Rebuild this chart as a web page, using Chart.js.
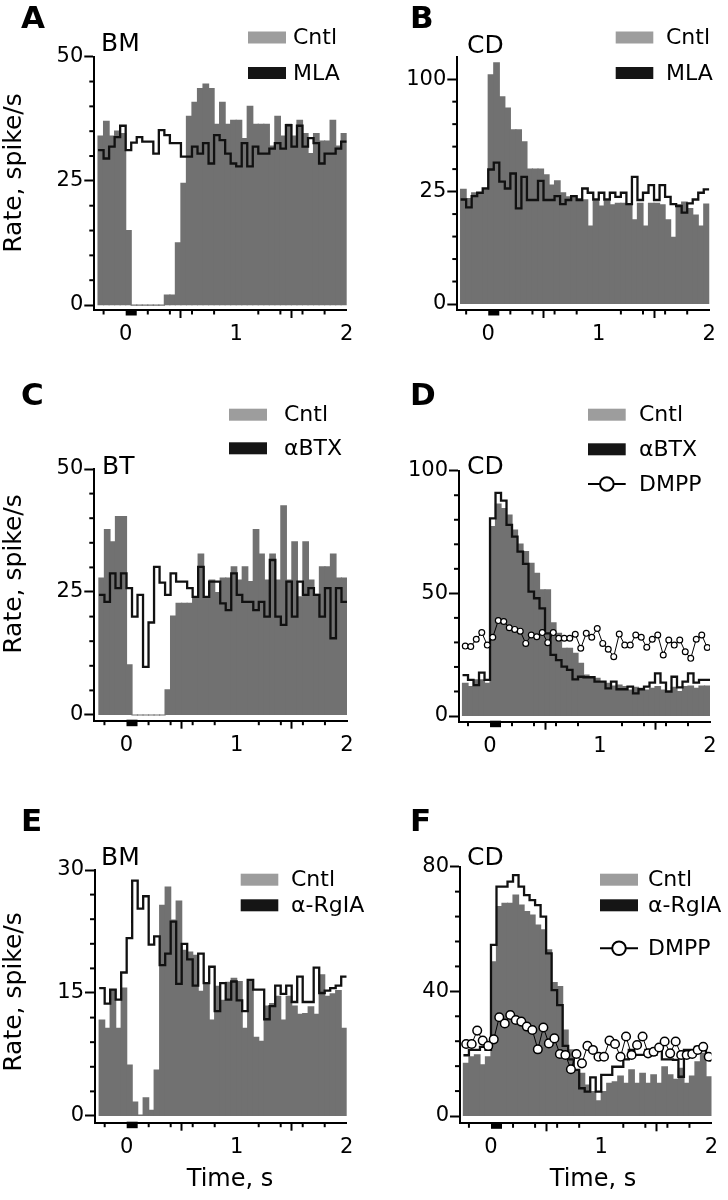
<!DOCTYPE html>
<html><head><meta charset="utf-8">
<script src="https://cdn.jsdelivr.net/npm/chart.js@4.4.1/dist/chart.umd.min.js"></script>
<style>
html,body{margin:0;padding:0;background:#fff;}
#wrap{position:relative;width:728px;height:1200px;overflow:hidden;background:#fff;}
canvas{position:absolute;left:0;top:0;}
</style></head><body><div id="wrap"></div>
<script>
// ---------- shared categories / ticks ----------
const binStart = -0.25, binWidth = 0.05;      // 45 bins, -0.25 .. 2.0 s
const xTicks = [0, 1, 2];
const xMinorTicks = [-0.2, 0.2, 0.4, 0.6, 0.8, 1.2, 1.4, 1.6, 1.8];
const stimWindow = [0, 0.1];

// ---------- panel A (BM, MLA) ----------
const A_region = 'BM';
const A_series = ['Cntl', 'MLA'];
const A_yTicks = [0, 25, 50];
const A_yMinor = [5, 10, 15, 20, 30, 35, 40, 45];
const A_cntl = [34, 37, 34, 35, 34.5, 15, 0, 0, 0, 0, 0, 0, 2, 2, 12.5, 24.5, 38, 40.8, 43.6, 44.5, 43.6, 36.4, 40.8, 36.4, 37.2, 37.2, 33.5, 40, 36.4, 36.4, 36.4, 32, 38, 34, 36.4, 34, 37.2, 34.5, 30.5, 34.5, 33, 33, 37.2, 32, 34.5];
const A_drug = [31.2, 29.5, 31.9, 33.8, 36.1, 31.2, 32.7, 33.8, 32.9, 32.9, 30.5, 35.2, 34.2, 32.6, 32.6, 29.9, 29.9, 31.9, 30.5, 32.6, 28.5, 34.2, 33.2, 30.5, 28.5, 27.9, 32.6, 27.9, 31.9, 30.5, 30.5, 31.5, 32.6, 31.5, 36.2, 31.9, 36.1, 31.9, 33.6, 32.6, 28.5, 30.5, 30.5, 31.5, 32.9];

// ---------- panel B (CD, MLA) sqrt axis ----------
const B_region = 'CD';
const B_series = ['Cntl', 'MLA'];
const B_yTicks = [0, 25, 100];
const B_yMinor = [1, 4, 9, 16, 36, 49, 64, 81];
const B_cntl = [26, 22, 24.5, 24.5, 25.7, 104, 115, 85, 76, 60, 60, 52, 36, 36, 36, 33, 28, 30, 24.5, 22.7, 22.7, 22, 21.5, 12, 21, 19, 21, 19.5, 20, 20, 19.5, 14, 20, 12, 20, 20, 19.5, 14, 8.8, 19.5, 20.5, 18, 15.6, 12, 19.7];
const B_drug = [21.6, 18.5, 23, 24.5, 26.4, 35.8, 39.6, 29.6, 26.4, 33.7, 18.1, 32, 21.4, 21.4, 30, 21.4, 21.4, 23, 19.7, 21.4, 23, 21.4, 26.4, 24.5, 21.6, 24.5, 21.6, 24.5, 22.7, 24.5, 19.7, 32, 21.4, 24.5, 28, 21.4, 28, 22.7, 19.7, 19, 16.5, 20, 21.6, 24.5, 26];

// ---------- panel C (BT, αBTX) ----------
const C_region = 'BT';
const C_series = ['Cntl', 'αBTX'];
const C_yTicks = [0, 25, 50];
const C_yMinor = [5, 10, 15, 20, 30, 35, 40, 45];
const C_cntl = [27.8, 37.7, 35.2, 40.3, 40.3, 10.2, 0, 0, 0, 0, 0, 0, 5.1, 20.1, 22.7, 22.7, 22.7, 24, 32.7, 24, 27.4, 24.9, 27.8, 27.8, 30.1, 27.4, 30.1, 27.1, 37.7, 32.7, 27.4, 32.7, 27.4, 42.5, 27.4, 35.2, 24, 35.2, 27.4, 24.5, 30.1, 30.1, 32.7, 27.8, 27.8];
const C_drug = [24.4, 23, 28.8, 25.8, 28.8, 25.8, 20, 24.4, 9.8, 18.8, 30.1, 26.9, 24.4, 28.8, 27.1, 27.1, 25.8, 24, 30.1, 24, 27.1, 27.1, 22.7, 21.3, 28.8, 24.4, 23, 23, 21.3, 23, 20, 31.5, 20, 18.3, 27.1, 20, 27.1, 24.4, 25.8, 24.4, 20, 25.8, 15.6, 25.8, 23];

// ---------- panel D (CD, αBTX, DMPP) ----------
const D_region = 'CD';
const D_series = ['Cntl', 'αBTX', 'DMPP'];
const D_yTicks = [0, 50, 100];
const D_yMinor = [10, 20, 30, 40, 60, 70, 80, 90];
const D_cntl = [13.3, 12, 14.7, 14.7, 13.3, 77.2, 86.4, 84.6, 81.9, 75.8, 70.1, 67, 62.2, 58.2, 51.4, 51.4, 38, 33.7, 27.6, 27.6, 25.5, 21.5, 16.7, 16, 15.4, 14, 13.3, 12.2, 12.6, 12, 10.6, 11.7, 11.3, 10.6, 11.3, 12, 10.6, 10.3, 11.7, 9.9, 12, 12.2, 11.3, 12.2, 12.2];
const D_drug = [16.7, 14.7, 12.6, 17.7, 14.7, 80.6, 91, 87.8, 77.9, 73.1, 67, 62, 50.7, 48, 43.9, 33.7, 24.9, 22.8, 20.1, 18.8, 14.9, 16, 15.8, 15.8, 14, 14, 11.3, 14, 10.9, 10.9, 12, 9.2, 10.9, 12, 13.6, 17.4, 13.6, 9.9, 16, 11.7, 14, 17.4, 13.6, 14.7, 14.7];
const D_dmpp = [28.5, 28.3, 31.3, 34, 28.9, 32.1, 38.9, 38.5, 36, 35.3, 34.6, 29.6, 33, 32.3, 34, 29.9, 34, 31.7, 31.7, 31.7, 33.3, 27.6, 33.7, 32.1, 35.7, 29.6, 27.2, 24.2, 33.4, 28.9, 28.9, 33, 32.1, 28, 31.3, 33, 24.9, 31, 28.9, 31, 26.2, 23.5, 31.3, 33, 27.9];

// ---------- panel E (BM, α-RgIA) ----------
const E_region = 'BM';
const E_series = ['Cntl', 'α-RgIA'];
const E_yTicks = [0, 15, 30];
const E_yMinor = [3, 6, 9, 12, 18, 21, 24, 27];
const E_cntl = [11.7, 10.7, 15.4, 10.7, 15.6, 6.2, 1.7, 0.1, 2.2, 0.7, 5.6, 25.7, 27.9, 23.9, 26.2, 20.2, 20, 19.6, 15.2, 16.2, 11.7, 15.8, 14.1, 16.3, 16.8, 16.4, 10.7, 16.6, 9.6, 9.1, 13.4, 13.7, 14.6, 11.7, 14.6, 13.4, 12.4, 12.5, 13.3, 12.4, 17.2, 14.6, 14.9, 15.3, 10.7];
const E_drug = [15.6, 13.7, 15.4, 14.2, 17.5, 21.7, 28.7, 25.3, 26.8, 20.9, 21.9, 18.4, 19.8, 23.7, 16.1, 21, 19.1, 15.9, 19.8, 16.2, 18.2, 12.8, 16.2, 14.2, 16.4, 14.1, 12.8, 16.6, 15.4, 15.4, 11.8, 13.4, 15.9, 14.9, 15.9, 13.9, 17, 13.9, 13.9, 18.1, 15, 15.3, 15.6, 15.9, 17];

// ---------- panel F (CD, α-RgIA, DMPP) ----------
const F_region = 'CD';
const F_series = ['Cntl', 'α-RgIA', 'DMPP'];
const F_yTicks = [0, 40, 80];
const F_yMinor = [8, 16, 24, 32, 48, 56, 64, 72];
const F_cntl = [16.9, 19, 19.6, 16.4, 19, 49.5, 67.2, 68.2, 68.2, 70.9, 67.7, 65.6, 64.5, 61.3, 59.7, 53.3, 42.8, 41.5, 27.6, 21.2, 14.8, 13.7, 9.9, 7.8, 4.9, 7.8, 10.5, 11, 12.8, 10.5, 14.8, 10.5, 13.7, 10.5, 13.2, 10.5, 15.8, 13.2, 11.8, 15.3, 10.5, 12.8, 17.4, 20.1, 12.6];
const F_drug = [19.5, 21.2, 21.2, 22.2, 21.2, 54.9, 73.6, 73.6, 75.2, 77.3, 73.6, 70.9, 69.3, 67.7, 64, 52.2, 40.4, 35.6, 22.5, 18.2, 14.8, 8.9, 7.8, 12.4, 7.8, 13.2, 13.2, 15.8, 15.8, 18.2, 21.2, 19.6, 19.6, 21.2, 19.6, 21.2, 18.2, 18.2, 18, 12.6, 21.2, 21.2, 22.2, 21.2, 19.6];
const F_dmpp = [23.1, 23.1, 27.4, 24.2, 22.5, 24.6, 31.7, 29.7, 32.4, 30.8, 30.3, 28.7, 27.6, 21.4, 28.4, 23.3, 24.9, 19.9, 19.6, 15, 19.9, 16.9, 22.5, 21.2, 19, 19, 24.2, 23.1, 19, 25.5, 19.6, 22.8, 25.5, 20.1, 20.6, 22, 23.9, 20.1, 23.9, 19.6, 19.6, 19.9, 21.2, 22.2, 19];

const Y_TITLE = 'Rate, spike/s';
const X_TITLE = 'Time, s';

// ---------- styles ----------
const FONT = '"DejaVu Sans", "Liberation Sans", Arial, sans-serif';
const COL_BAR = '#717171';
const COL_SWATCH = '#9d9d9d';
const COL_LINE = '#111111';
const YW = 60, XH = 40;
Chart.defaults.font.family = FONT;
Chart.defaults.color = '#000';

// sqrt value axis (panel B)
const sgnSqrt = v => Math.sign(v) * Math.sqrt(Math.abs(v));
class SqrtScale extends Chart.LinearScale {
  getPixelForValue(value) {
    const a = sgnSqrt(this.min), b = sgnSqrt(this.max);
    return this.getPixelForDecimal((sgnSqrt(value) - a) / (b - a));
  }
  getValueForPixel(pixel) {
    const a = sgnSqrt(this.min), b = sgnSqrt(this.max);
    const s = a + this.getDecimalForPixel(pixel) * (b - a);
    return Math.sign(s) * s * s;
  }
}
SqrtScale.id = 'sqrt';
SqrtScale.defaults = Chart.LinearScale.defaults;
Chart.register(SqrtScale);

const panels = [
  {letter:'A', region:A_region, series:A_series, cntl:A_cntl, drug:A_drug, yTicks:A_yTicks, yMinor:A_yMinor,
   left:94.3, right:346.7, top:56.7, bottom:310, xMin:-0.284, yMin:-1.0, yMax:50,
   letterPos:[21, 20], regionPos:[101, 44], sw:[248, 286], tx:293, rows:[37.5, 73], yTitleY:173},
  {letter:'B', region:B_region, series:B_series, cntl:B_cntl, drug:B_drug, yTicks:B_yTicks, yMinor:B_yMinor, yType:'sqrt',
   left:457.3, right:709.3, top:56.7, bottom:310, xMin:-0.28, yMin:-0.071, yMax:121,
   letterPos:[410, 20], regionPos:[467, 46], sw:[615.7, 653.3], tx:666, rows:[37.5, 73]},
  {letter:'C', region:C_region, series:C_series, cntl:C_cntl, drug:C_drug, yTicks:C_yTicks, yMinor:C_yMinor,
   left:94.3, right:347, top:469, bottom:720.7, xMin:-0.292, yMin:-1.16, yMax:50,
   letterPos:[21, 397], regionPos:[102, 467], sw:[229, 267], tx:284, rows:[414.7, 448.3], yTitleY:574},
  {letter:'D', region:D_region, series:D_series, cntl:D_cntl, drug:D_drug, dmpp:D_dmpp, yTicks:D_yTicks, yMinor:D_yMinor,
   left:459, right:710, top:470.7, bottom:721.7, xMin:-0.282, yMin:-2.32, yMax:100, r:2.9, pbw:1.2,
   letterPos:[410, 397], regionPos:[467, 467], sw:[588, 625.7], tx:639, rows:[414.7, 449.3, 484]},
  {letter:'E', region:E_region, series:E_series, cntl:E_cntl, drug:E_drug, yTicks:E_yTicks, yMinor:E_yMinor,
   left:95, right:346.7, top:870, bottom:1122.7, xMin:-0.288, yMin:-0.82, yMax:30,
   letterPos:[21, 823], regionPos:[101, 858.5], sw:[240.7, 278.3], tx:291, rows:[879.7, 905.3], yTitleY:992, xTitle:[230, 1180]},
  {letter:'F', region:F_region, series:F_series, cntl:F_cntl, drug:F_drug, dmpp:F_dmpp, yTicks:F_yTicks, yMinor:F_yMinor,
   left:460, right:711.5, top:866.7, bottom:1123.3, xMin:-0.281, yMin:-2.34, yMax:80, r:4.3, pbw:1.5,
   letterPos:[410, 823], regionPos:[467, 858.5], sw:[600, 638], tx:648, rows:[879.7, 905.3, 948.3], xTitle:[593, 1180]}
];

const centers = vals => vals.map((v, i) => ({x: binStart + (i + 0.5) * binWidth, y: v}));
const stepPts = vals => vals.map((v, i) => ({x: binStart + i * binWidth, y: v}))
  .concat([{x: binStart + vals.length * binWidth, y: vals[vals.length - 1]}]);

function drawDecor(chart, p) {
  const ctx = chart.ctx, xs = chart.scales.x, ys = chart.scales.y, ca = chart.chartArea;
  ctx.save();
  ctx.strokeStyle = '#000'; ctx.lineWidth = 2; ctx.lineCap = 'butt';
  p.yMinor.forEach(v => {
    const y = ys.getPixelForValue(v);
    ctx.beginPath(); ctx.moveTo(ca.left, y); ctx.lineTo(ca.left - 5, y); ctx.stroke();
  });
  xMinorTicks.forEach(v => {
    const x = xs.getPixelForValue(v);
    ctx.beginPath(); ctx.moveTo(x, ca.bottom); ctx.lineTo(x, ca.bottom + 4.5); ctx.stroke();
  });
  // stimulus marker
  const s0 = xs.getPixelForValue(stimWindow[0]), s1 = xs.getPixelForValue(stimWindow[1]);
  ctx.fillStyle = '#000';
  ctx.fillRect(s0, ca.bottom - 1, s1 - s0, 6.5);
  // legend
  ctx.textBaseline = 'middle'; ctx.textAlign = 'left';
  ctx.font = '22px ' + FONT;
  p.series.forEach((name, i) => {
    const cy = p.rows[i];
    if (i === 0 || i === 1) {
      ctx.fillStyle = i === 0 ? COL_SWATCH : '#151515';
      ctx.fillRect(p.sw[0], cy - 6, p.sw[1] - p.sw[0], 12);
    } else {
      ctx.strokeStyle = '#000'; ctx.lineWidth = 2;
      ctx.beginPath(); ctx.moveTo(p.sw[0], cy); ctx.lineTo(p.sw[1], cy); ctx.stroke();
      ctx.beginPath(); ctx.arc((p.sw[0] + p.sw[1]) / 2, cy, 6.8, 0, Math.PI * 2);
      ctx.fillStyle = '#fff'; ctx.fill(); ctx.stroke();
    }
    ctx.fillStyle = '#000';
    ctx.fillText(name, p.tx, cy + 1);
  });
  // region label
  ctx.font = '25px ' + FONT;
  ctx.fillText(p.region, p.regionPos[0], p.regionPos[1]);
  // panel letter
  ctx.font = 'bold 31px ' + FONT;
  ctx.fillText(p.letter, p.letterPos[0], p.letterPos[1]);
  // axis titles
  if (p.yTitleY) {
    ctx.save();
    ctx.translate(14, p.yTitleY); ctx.rotate(-Math.PI / 2);
    ctx.textAlign = 'center'; ctx.font = '25px ' + FONT;
    ctx.fillText(Y_TITLE, 0, 0);
    ctx.restore();
  }
  if (p.xTitle) {
    ctx.textAlign = 'center'; ctx.font = '24px ' + FONT;
    ctx.fillText(X_TITLE, p.xTitle[0], p.xTitle[1]);
  }
  ctx.restore();
}

const wrap = document.getElementById('wrap');
panels.forEach(p => {
  const cv = document.createElement('canvas');
  cv.width = 728; cv.height = 1200;
  wrap.appendChild(cv);
  const datasets = [
    {type:'bar', data: centers(p.cntl), backgroundColor: COL_BAR, borderWidth: 0, inflateAmount: 0.6,
     barPercentage: 1, categoryPercentage: 1, order: 3},
    {type:'line', data: stepPts(p.drug), borderColor: COL_LINE, borderWidth: 2.3, pointRadius: 0,
     fill: false, stepped: true, order: 2}
  ];
  if (p.dmpp) datasets.push({type:'line', data: centers(p.dmpp), borderColor: '#000', borderWidth: 1,
     pointRadius: p.r, pointBackgroundColor: '#fff', pointBorderColor: '#000', pointBorderWidth: p.pbw,
     fill: false, order: 1});
  new Chart(cv, {
    type: 'bar',
    data: {datasets},
    options: {
      responsive: false, animation: false, devicePixelRatio: 1,
      layout: {padding: {left: p.left - YW, top: p.top, right: 728 - p.right, bottom: 1200 - p.bottom - XH}},
      plugins: {legend: {display: false}, tooltip: {enabled: false}},
      scales: {
        x: {type: 'linear', min: p.xMin, max: 2, offset: false,
            afterFit: s => { s.height = XH; },
            afterBuildTicks: s => { s.ticks = xTicks.map(v => ({value: v})); },
            grid: {display: true, drawOnChartArea: false, drawTicks: true, tickLength: 8, color: '#000', tickWidth: 2},
            border: {display: true, color: '#000', width: 2},
            ticks: {font: {size: 21}, color: '#000', padding: 4, maxRotation: 0, autoSkip: false, callback: v => String(v)}},
        y: {type: p.yType || 'linear', min: p.yMin, max: p.yMax, beginAtZero: false,
            afterFit: s => { s.width = YW; },
            afterBuildTicks: s => { s.ticks = p.yTicks.map(v => ({value: v})); },
            grid: {display: true, drawOnChartArea: false, drawTicks: true, tickLength: 10, color: '#000', tickWidth: 2},
            border: {display: true, color: '#000', width: 2},
            ticks: {font: {size: 21}, color: '#000', padding: 1, autoSkip: false, callback: v => String(v)}}
      }
    },
    plugins: [{id: 'decor' + p.letter, afterDraw: chart => drawDecor(chart, p)}]
  });
});
</script></body></html>
